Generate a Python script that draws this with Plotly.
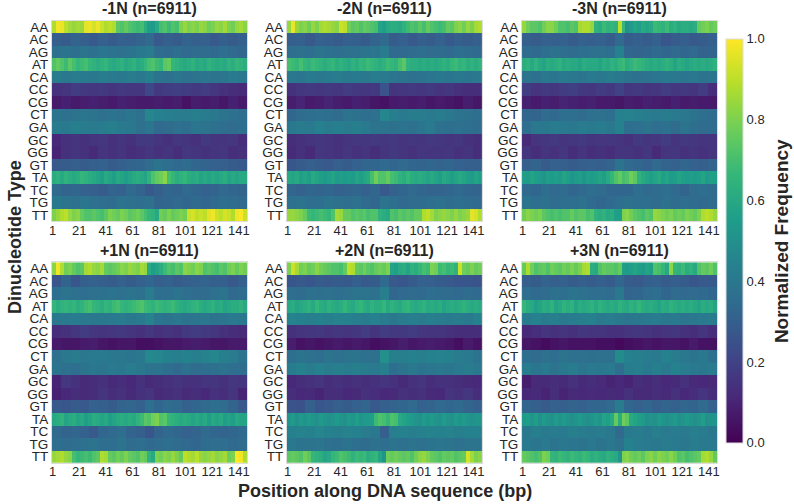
import numpy as np
import plotly.graph_objects as go

DINUCS = ["AA","AC","AG","AT","CA","CC","CG","CT","GA","GC","GG","GT","TA","TC","TG","TT"]
POSITIONS = list(range(1, 148))
X_TICKS = list(range(1, 142, 20))
TITLES = ["-1N (n=6911)", "-2N (n=6911)", "-3N (n=6911)", "+1N (n=6911)", "+2N (n=6911)", "+3N (n=6911)"]

# Normalized frequency x 100, one list per dinucleotide, binned along the sequence.
MINUS1 = [
 [88,98,97,90,86,84,86,85,96,97,94,97,92,88,90,88,74,72,76,72,70,68,70,62,55,54,60,70,72,68,72,70,80,84,80,82,80,84,82,78,80,84,82,86,80,78,84,86,82],
 [30,29,32,30,28,31,29,31,30,32,34,28,30,29,32,30,31,28,30,29,30],
 [37,38,36,38,37,39,38,37,38,40,42,35,34,36,34,35,35,34,36,34,33],
 [72,76,72,68,74,70,66,68,70,66,64,62,64,66,62,60,62,64,60,62,64,60,62,66,70,72,68,66,74,76,66,64,62,60,62,64,60,62,60,64,62,60,62,60,64,62,66,64,62],
 [42,40,42,41,40,42,41,40,42,40,43,38,37,39,37,38,39,38,39,41,40],
 [14,15,18,17,16,17,15,17,16,16,22,17,18,19,18,17,18,16,14,13,12],
 [7,9,7,8,9,8,7,9,8,7,7,8,7,8,5,8,7,8,6,9,7],
 [38,37,38,39,38,37,38,37,39,37,46,44,43,42,42,43,42,40,38,37,36],
 [42,41,43,42,41,42,43,41,40,37,39,34,35,37,36,39,38,37,36,35,36],
 [11,14,15,14,15,16,14,15,14,17,17,15,14,16,15,14,17,15,15,16,13],
 [10,14,15,14,12,15,14,15,13,14,16,14,15,13,16,15,14,15,16,13,14],
 [28,29,30,29,30,31,29,30,32,33,35,38,36,34,35,33,32,31,30,29,28],
 [62,64,60,64,62,60,62,66,64,62,60,58,56,60,58,56,60,58,56,58,60,62,60,58,64,72,76,78,82,70,66,62,64,66,62,60,62,58,60,58,60,58,60,62,58,60,58,60,60],
 [34,32,33,31,30,29,32,31,34,32,28,30,33,32,34,33,31,32,34,33,32],
 [40,38,37,39,37,36,35,38,37,36,37,32,33,34,33,34,33,34,36,35,34],
 [80,84,88,90,84,80,82,76,72,72,74,72,70,74,80,78,76,80,78,74,76,78,74,70,66,64,60,78,76,80,76,78,80,78,92,94,90,92,90,96,98,92,90,94,92,88,98,100,92],
]
MINUS2 = [
 [84,97,84,80,82,78,84,80,86,88,86,84,82,92,90,78,74,76,72,76,74,72,70,58,56,60,62,62,60,64,68,72,70,74,70,76,72,70,68,70,76,74,80,82,78,84,80,86,88],
 [30,31,28,31,30,29,31,30,29,32,34,29,31,28,30,29,31,28,30,29,30],
 [36,37,36,38,37,36,37,37,38,39,42,34,34,35,36,35,35,34,36,35,34],
 [70,68,66,70,66,64,68,66,64,62,64,66,62,64,62,60,64,62,66,64,68,66,64,62,64,68,66,64,70,74,64,62,62,60,62,60,62,60,62,64,62,66,68,64,66,62,64,62,64],
 [40,39,41,40,41,42,40,41,40,42,41,39,38,37,38,39,40,39,40,39,40],
 [14,16,17,16,17,16,18,17,16,17,26,15,16,17,16,17,15,16,14,13,13],
 [8,10,7,8,10,8,7,9,8,6,5,7,8,7,8,6,7,6,5,8,6],
 [33,35,36,37,36,35,38,37,36,37,46,43,41,42,42,41,42,40,38,37,36],
 [40,42,41,44,42,43,42,43,41,38,38,37,38,37,39,41,37,36,37,36,35],
 [13,14,15,16,15,14,15,16,16,17,16,17,15,16,15,17,16,15,16,14,13],
 [12,14,12,16,15,14,16,14,15,13,15,17,15,14,16,15,15,16,14,15,13],
 [27,29,30,29,28,30,29,31,33,33,34,33,34,33,32,33,32,33,31,30,30],
 [60,58,60,56,58,56,60,58,56,54,56,58,54,56,54,56,54,58,56,58,60,70,78,72,72,76,70,68,64,62,66,62,60,62,60,58,60,58,56,60,58,56,58,60,58,56,54,58,56],
 [33,31,33,32,33,31,32,33,31,33,28,31,33,34,33,32,32,33,34,33,32],
 [37,38,36,36,38,37,36,37,34,33,38,36,34,35,35,36,37,35,36,35,34],
 [84,84,82,80,76,68,66,68,70,68,66,72,86,84,76,76,72,74,72,74,70,72,72,64,62,60,72,70,74,72,74,72,76,76,88,90,86,80,82,84,82,80,84,80,82,84,96,94,88],
]
MINUS3 = [
 [84,78,74,74,72,78,82,82,78,72,72,70,74,72,86,88,88,84,64,62,68,64,66,64,90,66,50,54,58,56,60,58,60,68,66,64,68,62,64,60,62,62,60,62,76,78,80,76,78],
 [30,29,31,30,31,29,31,30,31,29,34,29,30,29,31,27,29,30,28,29,30],
 [35,34,36,37,36,35,36,37,37,36,44,33,32,33,34,33,34,33,34,32,32],
 [62,64,60,64,60,58,62,60,62,64,60,62,60,60,58,62,60,60,60,58,62,60,64,62,66,68,62,64,68,66,64,62,60,62,60,62,64,62,58,62,60,58,60,62,60,62,60,62,64],
 [38,37,40,39,41,40,39,41,40,42,40,38,37,38,39,40,40,39,40,38,39],
 [18,15,17,16,18,19,17,16,18,17,20,16,17,15,16,18,16,17,15,18,13],
 [9,7,9,8,10,9,8,9,7,7,6,8,7,9,8,7,9,7,8,7,7],
 [33,32,35,34,36,36,35,37,37,36,44,45,43,42,41,42,41,40,38,36,35],
 [36,40,40,42,41,40,42,41,42,40,44,36,37,38,36,37,35,38,36,35,35],
 [12,15,16,17,15,16,17,15,16,16,15,14,17,15,16,18,15,17,16,15,15],
 [15,13,15,14,16,13,15,13,14,13,15,15,14,16,12,15,16,14,15,14,15],
 [30,32,29,31,30,29,30,31,30,32,38,34,33,31,34,32,31,33,31,30,32],
 [56,54,58,56,54,52,56,54,56,54,58,56,52,54,56,52,56,54,56,58,56,60,66,72,76,70,72,78,74,64,60,58,56,58,60,56,58,54,56,58,56,54,56,54,56,58,54,56,56],
 [34,33,36,34,35,33,34,36,35,33,33,33,36,34,35,36,34,32,35,36,35],
 [38,36,37,35,36,36,37,34,33,34,36,37,36,36,35,37,35,36,35,34,35],
 [78,82,80,78,80,74,72,70,72,70,72,72,76,72,74,74,70,72,64,62,64,60,62,56,56,80,82,78,74,72,70,74,72,84,82,80,78,80,76,78,76,80,78,76,80,88,90,88,84],
]
PLUS1 = [
 [82,98,88,78,80,76,72,74,86,88,84,82,86,76,74,76,78,82,80,84,82,80,86,84,60,56,58,62,68,72,70,74,72,82,80,78,82,80,72,74,72,70,74,72,78,80,76,80,78],
 [27,32,27,30,31,30,29,31,29,31,33,30,31,29,30,31,32,30,30,28,30],
 [36,38,37,36,37,37,38,37,38,37,42,36,36,38,36,35,35,37,38,34,35],
 [66,62,64,66,64,66,62,64,68,70,66,64,62,66,64,68,70,66,64,66,68,70,72,68,66,64,68,66,64,66,68,64,62,60,62,64,66,62,60,62,64,60,62,58,60,62,62,64,60],
 [40,41,42,41,40,40,41,42,40,41,45,39,38,40,38,39,40,38,39,41,40],
 [13,14,16,18,16,15,16,17,15,14,16,14,15,14,17,18,17,16,14,13,12],
 [7,6,6,7,8,6,5,6,6,4,4,5,6,6,7,8,7,6,6,7,7],
 [37,40,42,40,41,41,40,40,39,40,47,46,44,43,44,43,45,46,43,42,38],
 [38,37,36,38,40,39,41,40,42,40,38,38,36,34,37,35,36,37,38,36,36],
 [10,16,14,12,13,14,12,13,11,14,12,13,14,15,14,14,15,15,14,16,15],
 [9,11,13,12,13,15,13,14,12,14,15,12,13,14,12,13,11,14,13,15,10],
 [28,27,29,28,31,30,29,32,33,31,36,33,35,34,31,33,34,36,35,32,28],
 [60,62,64,58,60,62,58,60,56,58,62,60,58,60,56,58,60,62,60,62,60,64,68,74,72,78,80,72,74,66,64,62,60,62,60,58,60,58,60,56,60,58,60,56,58,56,60,58,58],
 [34,32,33,31,28,33,34,36,32,30,27,32,34,33,31,32,34,33,32,33,34],
 [36,35,36,37,38,36,36,38,35,36,34,35,36,35,34,33,35,36,36,34,35],
 [84,86,88,84,82,70,66,68,70,68,72,74,88,86,76,74,78,76,80,76,74,72,78,76,64,60,80,78,82,80,84,80,76,90,88,86,90,84,82,84,86,82,84,86,78,80,100,98,88],
]
PLUS2 = [
 [80,92,86,78,80,76,78,82,78,76,74,72,72,70,76,90,88,76,74,78,74,72,76,78,76,80,58,56,60,62,58,64,62,66,70,68,80,78,68,70,66,68,64,92,78,76,80,76,78],
 [27,28,27,29,28,29,28,30,28,29,34,28,27,29,31,30,29,28,27,27,26],
 [36,35,37,36,37,36,37,38,38,37,43,33,34,35,34,36,35,35,34,35,34],
 [60,62,58,60,62,64,60,66,62,60,64,62,60,62,66,62,60,64,66,62,60,64,62,62,66,60,64,62,60,64,66,62,60,62,64,60,62,60,62,58,60,62,60,62,64,62,60,62,60],
 [45,44,43,44,43,45,44,43,42,44,42,40,42,43,42,43,42,41,42,41,44],
 [14,15,16,17,15,16,15,16,18,15,18,17,17,18,16,15,15,14,13,13,13],
 [8,5,6,5,6,7,6,7,6,4,5,6,8,6,7,8,7,6,4,7,5],
 [36,38,37,36,38,37,38,38,37,37,50,43,43,44,43,44,45,44,42,41,38],
 [42,44,42,44,42,43,42,43,42,41,43,36,38,40,38,39,40,39,41,42,40],
 [11,13,14,15,13,14,13,14,13,14,15,14,12,14,15,13,14,14,13,12,11],
 [13,11,12,10,13,13,11,12,14,13,11,12,14,13,14,12,11,15,14,16,13],
 [26,25,30,27,28,30,29,31,33,28,30,32,33,34,31,32,34,33,34,32,30],
 [52,54,50,54,52,54,52,50,54,52,50,52,54,52,50,54,52,56,52,54,54,56,68,72,70,66,72,70,60,58,56,54,52,50,54,52,54,52,50,54,52,50,54,52,54,52,50,52,52],
 [44,45,44,46,44,43,45,44,42,40,30,43,44,43,44,45,44,45,43,44,44],
 [40,38,38,39,37,36,38,36,35,37,36,38,37,38,37,38,39,38,37,38,38],
 [74,76,74,72,78,74,66,64,62,58,60,66,68,72,70,68,64,68,66,68,62,64,66,58,52,78,76,78,76,74,76,72,78,82,84,80,76,74,72,76,74,76,72,74,76,94,86,80,82],
]
PLUS3 = [
 [76,88,78,72,74,76,72,78,76,74,78,76,80,76,80,86,88,62,60,72,76,74,74,72,76,56,54,56,58,56,54,58,56,72,70,66,60,82,66,64,68,62,64,60,72,76,74,78,72],
 [30,29,32,30,31,29,30,29,30,29,33,29,28,30,31,29,30,29,27,28,28],
 [36,34,35,37,36,38,37,36,36,35,40,32,33,35,36,33,35,34,35,34,33],
 [66,62,60,56,58,62,60,64,58,60,64,62,64,58,62,60,62,64,60,64,62,60,62,60,64,62,60,64,62,66,62,60,62,60,58,62,60,64,62,60,62,60,62,60,58,62,60,62,58],
 [42,44,42,43,41,42,43,44,41,42,40,39,40,41,42,40,41,39,40,41,42],
 [11,13,15,14,15,14,16,15,15,14,14,15,16,15,14,15,16,14,13,15,13],
 [6,5,3,5,6,5,5,5,4,4,2,4,5,6,5,6,6,5,7,5,5],
 [36,35,37,36,38,37,37,36,37,37,48,44,43,42,41,44,42,40,38,40,37],
 [42,39,41,38,40,42,39,41,40,41,36,42,43,41,43,41,44,42,41,40,42],
 [8,12,12,13,12,14,12,13,12,10,11,10,13,12,13,11,12,14,12,11,12],
 [11,12,10,13,10,12,11,12,11,12,11,14,12,12,13,12,14,11,13,15,13],
 [32,30,29,31,30,32,31,33,33,34,42,33,31,33,30,32,31,33,32,34,31],
 [54,56,52,56,50,54,52,50,54,52,54,52,50,52,54,52,50,52,54,52,58,56,60,76,62,78,74,60,58,56,54,50,52,50,54,52,50,52,54,50,52,54,52,50,52,56,50,52,52],
 [40,43,41,42,41,43,42,41,42,40,34,41,42,40,43,41,42,41,43,42,40],
 [41,39,41,38,40,39,38,40,38,40,37,44,42,41,40,42,41,40,42,41,41],
 [76,74,72,70,72,80,78,66,64,68,66,64,68,66,64,68,66,62,64,62,60,64,62,60,52,80,82,78,76,78,74,80,82,78,82,80,78,82,78,72,74,70,72,74,76,86,88,84,76],
]
PANELS = [MINUS1, MINUS2, MINUS3, PLUS1, PLUS2, PLUS3]

W, H = 794, 504
COLS = [(49.3, 246.0), (285.7, 482.3), (522.3, 719.0)]
ROWS = [(19.7, 221.3), (262.3, 463.7)]
FONT = "Liberation Sans"
TEXT = "#262626"


def per_position(rows):
    """Spread each binned row over all sequence positions, as whole blocks."""
    n = len(POSITIONS)
    return [[row[i * len(row) // n] / 100 for i in range(n)] for row in rows]


fig = go.Figure()
layout = {}
for k, rows in enumerate(PANELS):
    r, c = divmod(k, 3)
    suffix = "" if k == 0 else str(k + 1)
    x0, x1 = COLS[c]
    y0, y1 = ROWS[r]
    fig.add_trace(go.Heatmap(
        z=per_position(rows), x=POSITIONS, y=DINUCS,
        coloraxis="coloraxis", xaxis="x" + suffix, yaxis="y" + suffix,
    ))
    layout["xaxis" + suffix] = dict(
        domain=[x0 / W, x1 / W], anchor="y" + suffix, range=[0.5, 147.5],
        tickmode="array", tickvals=X_TICKS, ticks="", ticklen=0, ticklabelstandoff=-3,
        tickfont=dict(family=FONT, size=13, color=TEXT), tickangle=0,
        showgrid=False, zeroline=False, showline=True, mirror=True,
        linecolor="#dcdcdc", linewidth=1,
    )
    layout["yaxis" + suffix] = dict(
        domain=[1 - y1 / H, 1 - y0 / H], anchor="x" + suffix,
        type="category", categoryorder="array", categoryarray=DINUCS,
        autorange="reversed", tickmode="array", tickvals=DINUCS, ticks="", ticklen=0,
        tickfont=dict(family=FONT, size=13.5, color=TEXT),
        showgrid=False, zeroline=False, showline=True, mirror=True,
        linecolor="#dcdcdc", linewidth=1,
    )

annotations = []
for k, title in enumerate(TITLES):
    r, c = divmod(k, 3)
    annotations.append(dict(
        text=f"<b>{title}</b>", xref="paper", yref="paper", showarrow=False,
        x=sum(COLS[c]) / 2 / W, y=1 - (ROWS[r][0] - 12) / H, xanchor="center", yanchor="middle",
        font=dict(family=FONT, size=16, color=TEXT),
    ))
annotations += [
    dict(text="<b>Position along DNA sequence (bp)</b>", xref="paper", yref="paper", showarrow=False,
         x=384 / W, y=1 - 492 / H, xanchor="center", yanchor="middle",
         font=dict(family=FONT, size=18, color=TEXT)),
    dict(text="<b>Dinucleotide Type</b>", xref="paper", yref="paper", showarrow=False,
         x=12 / W, y=1 - 237 / H, xanchor="center", yanchor="middle", textangle=-90,
         font=dict(family=FONT, size=18, color=TEXT)),
    dict(text="<b>Normalized Frequency</b>", xref="paper", yref="paper", showarrow=False,
         x=783 / W, y=1 - 241 / H, xanchor="center", yanchor="middle", textangle=-90,
         font=dict(family=FONT, size=19, color=TEXT)),
]

fig.update_layout(
    width=W, height=H, margin=dict(l=0, r=0, t=0, b=0),
    paper_bgcolor="white", plot_bgcolor="white",
    annotations=annotations,
    coloraxis=dict(
        colorscale="Viridis", cmin=0, cmax=1,
        colorbar=dict(
            x=728 / W, xanchor="left", xpad=0, ypad=0,
            y=1 - 38 / H, yanchor="top",
            lenmode="pixels", len=403.7, thicknessmode="pixels", thickness=17,
            tickmode="array", tickvals=[0, 0.2, 0.4, 0.6, 0.8, 1.0],
            ticktext=["0.0", "0.2", "0.4", "0.6", "0.8", "1.0"], ticks="",
            tickfont=dict(family=FONT, size=13, color=TEXT),
            outlinecolor="#dcdcdc", outlinewidth=1,
        ),
    ),
    **layout,
)

fig.write_html("out.html")
